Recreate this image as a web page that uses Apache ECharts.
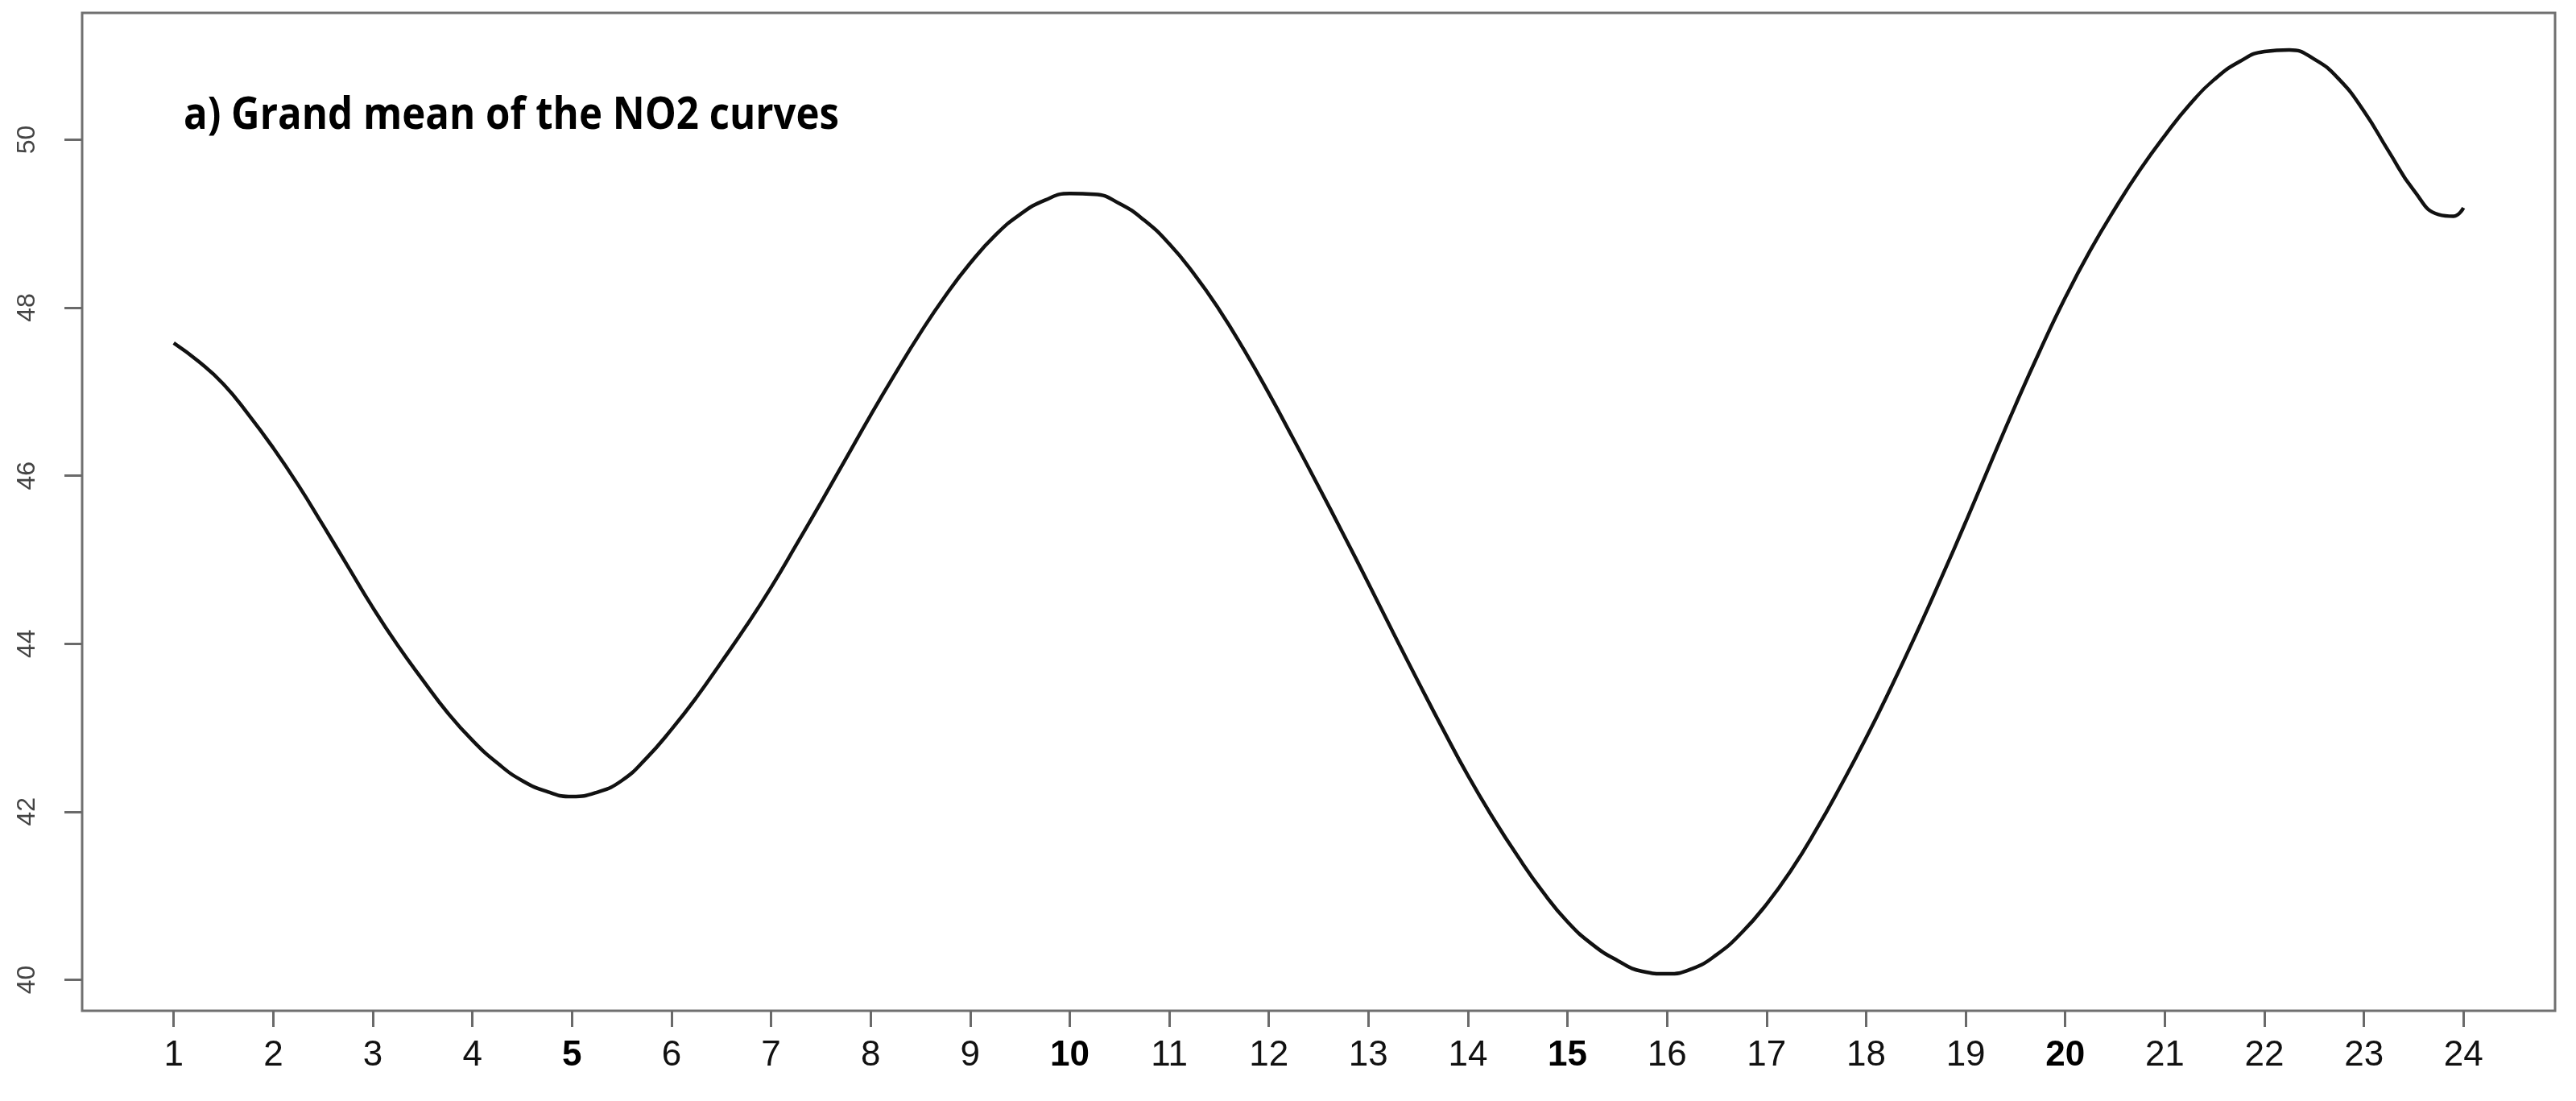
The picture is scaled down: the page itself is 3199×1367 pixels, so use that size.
<!DOCTYPE html>
<html>
<head>
<meta charset="utf-8">
<style>
  html, body { margin: 0; padding: 0; background: #fff; }
  #chart { width: 3199px; height: 1367px; }
</style>
<script src="https://cdn.jsdelivr.net/npm/echarts@6/dist/echarts.min.js"></script>
</head>
<body>
<div id="chart"></div>
<script>
// ---- data ----
const hours = [1.0,1.25,1.5,1.75,2.0,2.25,2.5,2.75,3.0,3.25,3.5,3.75,4.0,4.25,4.5,4.75,
  5.0,5.25,5.5,5.75,6.0,6.25,6.5,6.75,7.0,7.25,7.5,7.75,8.0,8.25,8.5,8.75,
  9.0,9.25,9.5,9.75,10.0,10.25,10.5,10.75,11.0,11.25,11.5,11.75,12.0,12.25,12.5,12.75,
  13.0,13.25,13.5,13.75,14.0,14.25,14.5,14.75,15.0,15.25,15.5,15.75,16.0,16.25,16.5,16.75,
  17.0,17.25,17.5,17.75,18.0,18.25,18.5,18.75,19.0,19.25,19.5,19.75,20.0,20.25,20.5,20.75,
  21.0,21.25,21.5,21.75,22.0,22.25,22.5,22.75,23.0,23.25,23.5,23.75,23.9,24.0];
const no2Mean = [47.58,47.36,47.09,46.73,46.33,45.89,45.41,44.92,44.43,43.98,43.57,43.18,42.85,42.58,42.37,42.24,
  42.18,42.23,42.37,42.64,42.98,43.36,43.78,44.21,44.67,45.17,45.68,46.20,46.72,47.22,47.70,48.14,
  48.53,48.86,49.11,49.28,49.36,49.35,49.24,49.04,48.76,48.40,47.98,47.50,46.98,46.43,45.87,45.30,
  44.72,44.13,43.55,42.98,42.43,41.93,41.47,41.05,40.69,40.42,40.23,40.10,40.07,40.13,40.30,40.56,
  40.90,41.31,41.79,42.32,42.88,43.48,44.11,44.77,45.45,46.15,46.84,47.50,48.12,48.68,49.18,49.64,
  50.05,50.42,50.72,50.93,51.05,51.07,50.96,50.72,50.34,49.86,49.40,49.11,49.09,49.19];
const xTicks = [1,2,3,4,5,6,7,8,9,10,11,12,13,14,15,16,17,18,19,20,21,22,23,24];
const boldTicks = [5,10,15,20];
const yTicks = [40,42,44,46,48,50];
const titleText = 'a) Grand mean of the NO2 curves';

const chart = echarts.init(document.getElementById('chart'), null, { renderer: 'canvas' });

function titleScale() {
  const c = document.createElement('canvas').getContext('2d');
  c.font = 'bold 55px "Open Sans"';
  const w = c.measureText(titleText).width;
  return w > 0 ? 814 / w : 1;
}

function build() {
  return {
    animation: false,
    backgroundColor: '#ffffff',
    grid: {
      left: 102, right: 26, top: 16, bottom: 112,
      show: true, borderColor: '#707070', borderWidth: 3, backgroundColor: 'transparent'
    },
    xAxis: {
      type: 'value', min: 0.08, max: 24.92,
      axisLine: { show: false },
      splitLine: { show: false },
      axisTick: { show: true, length: 20, inside: false, customValues: xTicks,
        lineStyle: { color: '#6a6a6a', width: 3 } },
      axisLabel: {
        show: true, customValues: xTicks, margin: 34,
        fontFamily: '"Liberation Sans", Arial, sans-serif',
        fontSize: 44, color: '#111',
        formatter: function (v) {
          return boldTicks.indexOf(v) >= 0 ? '{b|' + v + '}' : '' + v;
        },
        rich: { b: { fontWeight: 'bold', fontSize: 44, color: '#000',
          fontFamily: '"Liberation Sans", Arial, sans-serif' } }
      }
    },
    yAxis: {
      type: 'value', min: 39.63, max: 51.51,
      axisLine: { show: false },
      splitLine: { show: false },
      axisTick: { show: true, length: 22, inside: false, customValues: yTicks,
        lineStyle: { color: '#6a6a6a', width: 3 } },
      axisLabel: {
        show: true, customValues: yTicks, rotate: 90, margin: 52,
        fontFamily: '"Liberation Sans", Arial, sans-serif',
        fontSize: 32, color: '#444'
      }
    },
    graphic: [{
      type: 'text', x: 228, y: 144, scaleX: titleScale(), scaleY: 1,
      style: { text: titleText, fill: '#000', font: 'bold 55px "Open Sans"',
        align: 'left', verticalAlign: 'middle' }
    }],
    series: [{
      type: 'line', smooth: 0.5, showSymbol: false, symbol: 'none',
      data: hours.map((h, i) => [h, no2Mean[i]]),
      lineStyle: { color: '#111', width: 4.5 }
    }]
  };
}

chart.setOption(build());
if (document.fonts && document.fonts.load) {
  document.fonts.load('bold 55px "Open Sans"').then(() => chart.setOption(build()));
}
</script>
</body>
</html>
